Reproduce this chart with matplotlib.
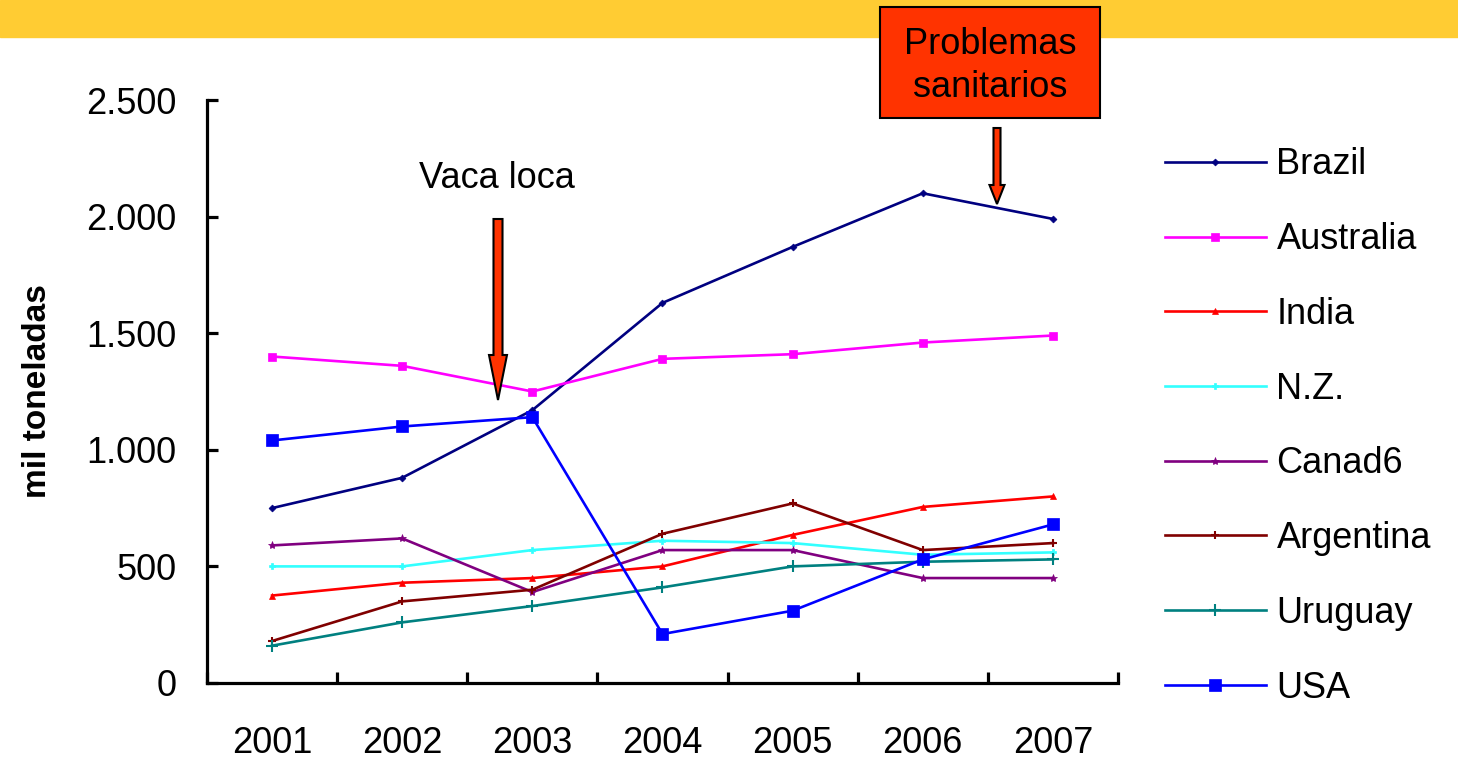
import numpy as np
import matplotlib
matplotlib.use('Agg')
import matplotlib.pyplot as plt
from matplotlib.patches import Rectangle, FancyArrow
from matplotlib.ticker import FuncFormatter, MultipleLocator

plt.rcParams['font.family'] = ['Liberation Sans', 'DejaVu Sans']

# data (mil toneladas)
years = ['2001', '2002', '2003', '2004', '2005', '2006', '2007']
brazil = [750, 880, 1170, 1630, 1870, 2100, 1990]
australia = [1400, 1360, 1250, 1390, 1410, 1460, 1490]
india = [375, 430, 450, 500, 635, 755, 800]
nz = [500, 500, 570, 610, 600, 550, 560]
canada = [590, 620, 390, 570, 570, 450, 450]
argentina = [180, 350, 400, 640, 770, 570, 600]
uruguay = [160, 260, 330, 410, 500, 520, 530]
usa = [1040, 1100, 1140, 210, 310, 530, 680]

W, H = 1458, 761
fig = plt.figure(figsize=(W / 100, H / 100), dpi=100)

# yellow band on top
fig.patches.append(Rectangle((0, 1 - 37 / H), 1, 37 / H, transform=fig.transFigure,
                             color='#FFCC33', zorder=0))

ax = fig.add_axes([207 / W, 1 - 683 / H, (1118 - 207) / W, (683 - 100) / H])
x = np.arange(len(years))

series = [
    ('Brazil', brazil, '#000080', 'D', 3.5),
    ('Australia', australia, '#FF00FF', 's', 6),
    ('India', india, '#FF0000', '^', 5),
    ('N.Z.', nz, '#33FFFF', 'P', 5),
    ('Canad6', canada, '#800080', '*', 6),
    ('Argentina', argentina, '#800000', '+', 6),
    ('Uruguay', uruguay, '#008080', '+', 8),
    ('USA', usa, '#0000FF', 's', 9),
]
for name, vals, col, mk, ms in series:
    ax.plot(x, vals, color=col, lw=1.9, marker=mk, markersize=ms,
            markeredgewidth=1.5 if mk == '+' else 0.5, label=name)

ax.set_xlim(-0.5, 6.5)
ax.set_ylim(0, 2500)
ax.set_xticks(x)
ax.set_xticklabels(years)
ax.xaxis.set_minor_locator(MultipleLocator(1, offset=0.5))
ax.yaxis.set_major_locator(MultipleLocator(500))
ax.yaxis.set_major_formatter(FuncFormatter(lambda v, p: f'{int(v):,}'.replace(',', '.')))

for s in ['top', 'right']:
    ax.spines[s].set_visible(False)
for s in ['left', 'bottom']:
    ax.spines[s].set_linewidth(2.3)
ax.tick_params(axis='x', which='major', length=0, pad=31, labelsize=26)
ax.tick_params(axis='x', which='minor', direction='in', length=8, width=2.3)
ax.tick_params(axis='y', direction='in', length=8, width=2.3, pad=22, labelsize=26)
ax.set_ylabel('mil toneladas', fontsize=24, fontweight='bold')
ax.yaxis.set_label_coords(-(207 - 53) / (1118 - 207), 0.5)

ax.legend(loc='upper left', bbox_to_anchor=(1132 / W, 1 - 115 / H),
          bbox_transform=fig.transFigure, frameon=False, fontsize=26,
          handlelength=2.8, handletextpad=0.3, labelspacing=1.1)

# annotations
fig.text(497 / W, 1 - 178 / H, 'Vaca loca', fontsize=26, ha='center', va='center')
fig.patches.append(FancyArrow(498 / W, 1 - 219 / H, 0, -(400 - 219) / H, width=9 / W,
                              head_width=18 / W, head_length=45 / H,
                              length_includes_head=True, transform=fig.transFigure,
                              facecolor='#FF3300', edgecolor='black', lw=1.5, zorder=5))
fig.patches.append(FancyArrow(997 / W, 1 - 128 / H, 0, -(204 - 128) / H, width=7 / W,
                              head_width=15 / W, head_length=19 / H,
                              length_includes_head=True, transform=fig.transFigure,
                              facecolor='#FF3300', edgecolor='black', lw=1.5, zorder=5))
fig.patches.append(Rectangle((880 / W, 1 - 118 / H), 220 / W, 111 / H,
                             transform=fig.transFigure, facecolor='#FF3300',
                             edgecolor='black', lw=1.5, zorder=4))
fig.text(990 / W, 1 - 66 / H, 'Problemas\nsanitarios', fontsize=26, ha='center',
         va='center', linespacing=1.3, zorder=6)

fig.savefig('out.png', dpi=100)
